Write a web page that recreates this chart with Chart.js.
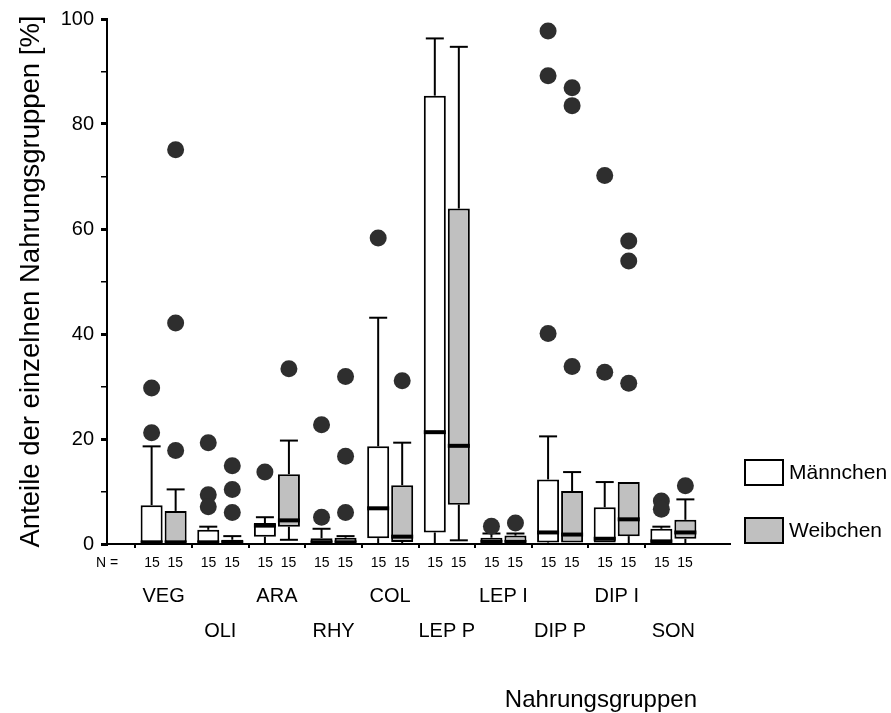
<!DOCTYPE html>
<html><head><meta charset="utf-8">
<script src="https://cdn.jsdelivr.net/npm/chart.js@4/dist/chart.umd.min.js"></script>
<style>html,body{margin:0;padding:0;background:#fff;}#wrap{width:891px;height:713px;}</style>
</head><body><div id="wrap"><canvas id="c" width="891" height="713"></canvas></div>
<script>
// ---------- data ----------
const categories = ['VEG','OLI','ARA','RHY','COL','LEP P','LEP I','DIP P','DIP I','SON'];
const nMale   = [15,15,15,15,15,15,15,15,15,15];
const nFemale = [15,15,15,15,15,15,15,15,15,15];
const seriesNames = ['Männchen','Weibchen'];

const maleQ1     = [0,   0,   1.4, 0,   1.1,  2.2,  0,   0.3,  0,    0];
const maleMedian = [0.3, 0.3, 3.5, 0.3, 6.8,  21.3, 0.4, 2.2,  1.0,  0.5];
const maleQ3     = [7.4, 2.7, 4.0, 1.1, 18.6, 85.4, 1.2, 12.3, 7.0,  2.9];
const maleLow    = [0,   0,   0,   0,   0,    0,    0,   0,    0,    0];
const maleHigh   = [18.6,3.3, 5.1, 2.9, 43.1, 96.3, 2.0, 20.5, 11.8, 3.3];
const maleOutliers = [[29.7,21.2],[19.3,9.4,7.1],[13.7],[22.7,5.1],[58.3],[],[3.4],[97.7,89.2,40.1],[70.2,32.7],[8.2,6.6]];

const femaleQ1     = [0,   0,   3.3, 0,   0.4,  7.5,  0,   0,    1.5,  1.0];
const femaleMedian = [0.3, 0.3, 4.5, 0.3, 1.4,  18.7, 0.4, 1.8,  4.7,  2.2];
const femaleQ3     = [6.3, 0.8, 13.3,1.2, 11.2, 63.9, 1.6, 10.1, 11.8, 4.6];
const femaleLow    = [0,   0,   0.8, 0,   0,    0.7,  0,   0,    0,    0];
const femaleHigh   = [10.4,1.5, 19.7,1.5, 19.3, 94.7, 2.0, 13.7, 11.8, 8.5];
const femaleOutliers = [[75.1,42.1,17.8],[14.9,10.4,6.0],[33.4],[31.9,16.7,6.0],[31.1],[],[4.0],[86.9,83.5,33.8],[57.7,53.9,30.6],[11.1]];

const yTickLabels = [0,20,40,60,80,100];
const yTitle = 'Anteile der einzelnen Nahrungsgruppen [%]';
const xTitle = 'Nahrungsgruppen';
const nLabel = 'N =';

// ---------- styling ----------
const FONT = 'Liberation Sans, Arial, sans-serif';
Chart.defaults.font.family = FONT;
Chart.defaults.color = '#000';
const CAT_PCT = 0.848, BAR_PCT = 0.917;
const SLOT = CAT_PCT / 4;
const FEMALE_FILL = '#c0c0c0';
const OUTLIER_FILL = '#2e2e2e';
const N = categories.length;

function boxData(q1, q3){ return categories.map((c,i)=>({x:i+1, y:[q1[i], q3[i]]})); }
function outlierData(list, side){
  const pts = [];
  list.forEach((arr,i)=>arr.forEach(v=>pts.push({x:i+1+side*SLOT, y:v})));
  return pts;
}

const series = [
  {q1:maleQ1, med:maleMedian, q3:maleQ3, lo:maleLow, hi:maleHigh},
  {q1:femaleQ1, med:femaleMedian, q3:femaleQ3, lo:femaleLow, hi:femaleHigh}
];

const whiskerPlugin = {
  id:'whiskers',
  beforeDatasetsDraw(chart){
    const ctx = chart.ctx, ys = chart.scales.y;
    ctx.save();
    ctx.strokeStyle = '#000'; ctx.lineWidth = 2;
    series.forEach((s,d)=>{
      chart.getDatasetMeta(d).data.forEach((bar,i)=>{
        const x = bar.x;
        const seg = (a,b)=>{ if (Math.abs(s[a][i]-s[b][i])<1e-9) return;
          ctx.beginPath(); ctx.moveTo(x, ys.getPixelForValue(s[a][i])); ctx.lineTo(x, ys.getPixelForValue(s[b][i])); ctx.stroke();
          const yc = ys.getPixelForValue(s[b][i]);
          ctx.beginPath(); ctx.moveTo(x-9, yc); ctx.lineTo(x+9, yc); ctx.stroke(); };
        seg('q3','hi'); seg('q1','lo');
      });
    });
    ctx.restore();
  },
  afterDatasetsDraw(chart){
    const ctx = chart.ctx, ys = chart.scales.y;
    ctx.save();
    ctx.strokeStyle = '#000'; ctx.lineWidth = 4;
    series.forEach((s,d)=>{
      chart.getDatasetMeta(d).data.forEach((bar,i)=>{
        const ym = ys.getPixelForValue(s.med[i]);
        ctx.beginPath(); ctx.moveTo(bar.x-bar.width/2, ym); ctx.lineTo(bar.x+bar.width/2, ym); ctx.stroke();
      });
    });
    ctx.restore();
  }
};

const extrasPlugin = {
  id:'extras',
  afterDraw(chart){
    const ctx = chart.ctx, a = chart.chartArea;
    ctx.save();
    // legend
    const fills = ['#ffffff', FEMALE_FILL];
    const tops = [a.bottom-84, a.bottom-26];
    ctx.font = '21px ' + FONT; ctx.textBaseline = 'middle'; ctx.textAlign = 'left';
    seriesNames.forEach((name,k)=>{
      const bx = a.right+15, by = tops[k];
      ctx.fillStyle = fills[k]; ctx.fillRect(bx, by, 38, 25);
      ctx.strokeStyle = '#000'; ctx.lineWidth = 2; ctx.strokeRect(bx, by, 38, 25);
      ctx.fillStyle = '#000'; ctx.fillText(name, bx+44, by+13.5);
    });
    // x title
    ctx.font = '24px ' + FONT; ctx.textAlign = 'right'; ctx.textBaseline = 'alphabetic';
    ctx.fillText(xTitle, a.right-33, chart.height-6.5);
    ctx.restore();
  }
};

const xCommon = {type:'linear', min:0, max:N+1, offset:false};

new Chart(document.getElementById('c'), {
  type:'bar',
  data:{
    datasets:[
      {type:'bar', label:seriesNames[0], data:boxData(maleQ1, maleQ3), backgroundColor:'#ffffff', borderColor:'#000', borderWidth:2, borderSkipped:false, categoryPercentage:CAT_PCT, barPercentage:BAR_PCT, order:2},
      {type:'bar', label:seriesNames[1], data:boxData(femaleQ1, femaleQ3), backgroundColor:FEMALE_FILL, borderColor:'#000', borderWidth:2, borderSkipped:false, categoryPercentage:CAT_PCT, barPercentage:BAR_PCT, order:2},
      {type:'scatter', label:seriesNames[0]+' Ausreißer', data:outlierData(maleOutliers,-1), pointRadius:8.5, pointBackgroundColor:OUTLIER_FILL, pointBorderWidth:0, order:1},
      {type:'scatter', label:seriesNames[1]+' Ausreißer', data:outlierData(femaleOutliers,1), pointRadius:8.5, pointBackgroundColor:OUTLIER_FILL, pointBorderWidth:0, order:1}
    ]
  },
  options:{
    responsive:false, animation:false, devicePixelRatio:1,
    layout:{padding:{top:17, left:0, right:161, bottom:0}},
    plugins:{legend:{display:false}, tooltip:{enabled:false}},
    scales:{
      y:{type:'linear', min:0, max:100,
        ticks:{stepSize:10, font:{size:20}, color:'#000', padding:7,
          callback:v=>yTickLabels.includes(v)?String(v):''},
        grid:{drawOnChartArea:false, drawTicks:true, tickLength:6, color:'#000',
          lineWidth:c=>(c.tick && yTickLabels.includes(c.tick.value))?3:1.5},
        border:{display:true, color:'#000', width:2},
        title:{display:true, text:yTitle, font:{size:27.5}, color:'#000', padding:{top:15,bottom:0}},
        afterFit:s=>{s.width=107;}
      },
      x:Object.assign({}, xCommon, {position:'bottom', weight:0,
        ticks:{stepSize:1, autoSkip:false, maxRotation:0, font:{size:14}, color:'#000', padding:7,
          callback:v=> v===0 ? nLabel : (v>=1 && v<=N ? nMale[v-1]+'  '+nFemale[v-1] : '')},
        grid:{drawOnChartArea:false, drawTicks:true, tickLength:4, lineWidth:2,
          color:c=>(c.tick && c.tick.value>=1 && c.tick.value<=N)?'#000':'rgba(0,0,0,0)'},
        border:{display:true, color:'#000', width:2},
        afterFit:s=>{s.height=28;}
      }),
      x2:Object.assign({}, xCommon, {position:'bottom', weight:1,
        ticks:{stepSize:1, autoSkip:false, maxRotation:0, font:{size:20}, color:'#000', padding:12,
          callback:v=> (v>=1 && v<=N && (v-1)%2===0) ? categories[v-1] : ''},
        grid:{display:false, drawTicks:false, tickLength:0}, border:{display:false},
        afterFit:s=>{s.height=35;}
      }),
      x3:Object.assign({}, xCommon, {position:'bottom', weight:2,
        ticks:{stepSize:1, autoSkip:false, maxRotation:0, font:{size:20}, color:'#000', padding:12,
          callback:v=> (v>=1 && v<=N && (v-1)%2===1) ? categories[v-1] : ''},
        grid:{display:false, drawTicks:false, tickLength:0}, border:{display:false},
        afterFit:s=>{s.height=106;}
      })
    }
  },
  plugins:[whiskerPlugin, extrasPlugin]
});
</script></body></html>
